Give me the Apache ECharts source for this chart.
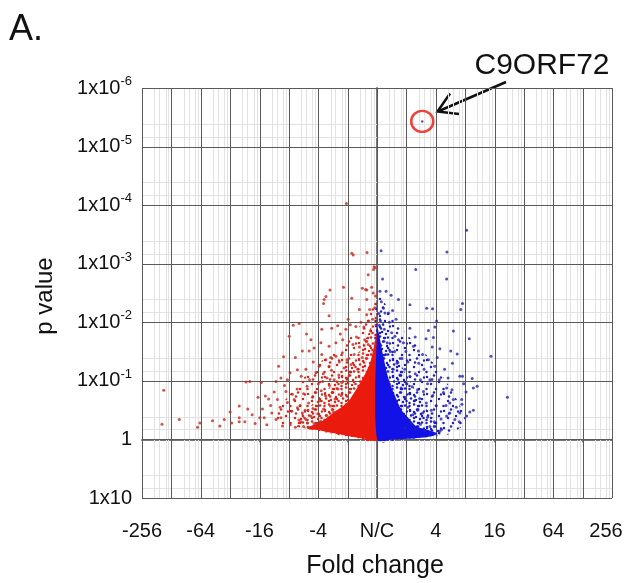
<!DOCTYPE html>
<html>
<head>
<meta charset="utf-8">
<script src="https://cdn.jsdelivr.net/npm/echarts@6/dist/echarts.min.js"></script>
<style>
  html, body { margin: 0; padding: 0; background: #fff; }
  #chart { width: 628px; height: 583px; }
</style>
</head>
<body>
<div id="chart"></div>
<script>
// x = log2 fold change, y = -log10 p value
const foldTicks = [-8, -6, -4, -2, 0, 2, 4, 6, 8];
const foldLabels = ['-256', '-64', '-16', '-4', 'N/C', '4', '16', '64', '256'];
const pTicks = [-1, 0, 1, 2, 3, 4, 5, 6];
const pBase = ['1x10', '1', '1x10', '1x10', '1x10', '1x10', '1x10', '1x10'];
const pExp = ['', '', '-1', '-2', '-3', '-4', '-5', '-6'];

// outlines of the crowded part of the cloud: loose dots, packed dots, solid
const downOuter = [
  [0, 0], [-1, 0.05], [-2, 0.15], [-2.8, 0.22], [-3.5, 0.3], [-3.4, 0.5], [-3.0, 0.75],
  [-2.5, 1.05], [-2.0, 1.3], [-1.4, 1.5], [-0.9, 1.75], [-0.5, 2.0], [-0.2, 2.3], [0, 2.5]
];
const downMid = [
  [0, 0], [-1, 0.05], [-2, 0.15], [-2.7, 0.22], [-2.6, 0.4], [-2.2, 0.6], [-1.7, 0.85],
  [-1.3, 1.05], [-0.9, 1.3], [-0.55, 1.55], [-0.3, 1.8], [-0.1, 2.05], [0, 2.15]
];
const downCore = [
  [0, 0], [-0.5, 0.02], [-1.0, 0.06], [-1.4, 0.1], [-1.9, 0.15], [-2.35, 0.2],
  [-1.9, 0.3], [-1.5, 0.45], [-1.03, 0.62], [-0.8, 0.78], [-0.58, 0.96],
  [-0.4, 1.12], [-0.24, 1.3], [-0.14, 1.5], [-0.06, 1.7], [0, 1.8]
];
const upOuter = [
  [0, 0], [1, 0.01], [2, 0.05], [2.6, 0.12], [3.0, 0.3], [2.8, 0.6], [2.4, 0.95],
  [2.0, 1.25], [1.5, 1.55], [1.0, 1.8], [0.6, 2.05], [0.3, 2.3], [0, 2.5]
];
const upMid = [
  [0, 0], [1, 0.01], [2, 0.06], [2.2, 0.12], [2.0, 0.3], [1.7, 0.5], [1.35, 0.8],
  [1.0, 1.1], [0.7, 1.4], [0.45, 1.7], [0.2, 2.0], [0, 2.15]
];
const upCore = [
  [0, 0], [0.5, 0.0], [1.0, 0.01], [1.5, 0.03], [1.9, 0.06], [2.05, 0.1],
  [1.7, 0.17], [1.35, 0.22], [1.1, 0.35], [0.84, 0.5], [0.65, 0.7],
  [0.44, 0.96], [0.33, 1.15], [0.22, 1.41], [0.14, 1.6], [0.07, 1.8], [0, 1.9]
];

// scattered genes
const downPoints = [
  [-1.04, 4.03], [-0.86, 3.18], [-0.81, 3.15], [-0.34, 3.19], [-0.1, 2.95], [-0.12, 2.9],
  [-0.06, 2.93], [-0.3, 2.81], [-0.13, 2.5], [-0.35, 2.55],
  [-1.6, 2.55], [-1.74, 2.44], [-1.8, 2.39], [-1.82, 2.32], [-1.14, 2.6], [-0.86, 2.41],
  [-0.5, 2.58], [-0.39, 2.56], [-0.35, 2.39], [-0.25, 2.22], [-0.35, 2.13], [-1.63, 2.11],
  [-0.6, 2.22], [-2.85, 1.95], [-2.65, 1.98], [-2.99, 1.76], [-2.25, 1.7], [-3.18, 1.41],
  [-2.54, 1.51], [-1.88, 1.88], [-1.54, 1.9], [-1.34, 1.94], [-1.06, 1.88], [-0.91, 1.96],
  [-0.72, 1.93], [-2.31, 1.51], [-2.14, 1.56], [-1.91, 1.65], [-1.63, 1.59], [-1.4, 1.65],
  [-1.17, 1.7], [-2.71, 1.19], [-3.05, 1.02], [-2.96, 1.14], [-3.27, 1.05], [-3.44, 0.99],
  [-4.46, 0.98], [-4.33, 0.99], [-3.94, 0.97], [-7.26, 0.84], [-7.32, 0.26], [-6.73, 0.34],
  [-6.03, 0.28], [-6.11, 0.21], [-5.35, 0.23], [-5.2, 0.34], [-4.69, 0.57], [-4.4, 0.52],
  [-4.69, 0.37], [-4.69, 0.3], [-4.15, 0.27], [-3.99, 0.37], [-3.84, 0.37], [-3.8, 0.74],
  [-3.69, 0.69], [-3.5, 0.81], [-3.39, 0.68], [-3.58, 0.45], [-3.44, 0.34], [-3.27, 0.37],
  [-3.22, 0.23], [-3.1, 0.82], [-2.88, 0.77], [-3.05, 0.63], [-2.82, 0.68], [-2.71, 0.54],
  [-2.54, 0.45], [-2.42, 0.34], [-2.59, 0.3], [-2.25, 0.4], [-2.14, 0.27], [-2.08, 1.14],
  [-1.97, 1.25], [-1.74, 1.36], [-1.63, 1.25], [-1.4, 1.42], [-1.85, 0.99], [-2.08, 0.8],
  [-2.95, 0.25], [-2.78, 0.21], [-2.66, 0.33], [-2.5, 0.22], [-2.37, 0.28], [-2.28, 0.19],
  [-2.05, 0.22], [-1.92, 0.31], [-1.78, 0.18], [-1.66, 0.26], [-2.9, 0.48], [-2.62, 0.58],
  [-2.45, 0.5], [-2.33, 0.62], [-2.18, 0.53], [-2.02, 0.44], [-1.95, 0.66], [-1.82, 0.52],
  [-1.71, 0.41], [-1.58, 0.57], [-1.48, 0.47], [-2.72, 0.86], [-2.5, 0.78], [-2.38, 0.91],
  [-2.2, 0.72], [-2.0, 0.95], [-1.9, 0.83], [-1.75, 0.74], [-1.62, 0.92], [-1.52, 0.8],
  [-1.43, 0.69], [-1.33, 0.86], [-1.22, 0.75], [-2.58, 1.08], [-2.42, 1.2], [-2.3, 1.02],
  [-2.17, 1.32], [-1.83, 1.12], [-1.7, 1.05], [-1.55, 1.18], [-1.46, 1.02], [-1.3, 1.1],
  [-1.2, 0.97], [-1.12, 1.22], [-1.02, 1.05], [-0.92, 1.15], [-1.88, 1.45], [-1.58, 1.4],
  [-1.28, 1.32], [-1.18, 1.48], [-1.02, 1.36], [-0.88, 1.28], [-0.78, 1.45], [-0.66, 1.2],
  [-0.6, 1.58], [-0.5, 1.4], [-0.42, 1.7], [-0.3, 1.62], [-0.22, 1.85], [-0.15, 2.05],
  [-0.08, 2.25], [-0.05, 2.45], [-0.18, 2.6], [-0.28, 2.02], [-0.45, 1.92], [-0.7, 1.75],
  [-0.82, 1.62], [-1.25, 1.8], [-0.98, 2.05], [-0.55, 2.0], [-3.3, 0.55], [-3.15, 0.92],
  [-3.62, 0.58], [-3.9, 0.52], [-4.05, 0.72], [-4.25, 0.42], [-3.75, 0.25], [-4.5, 0.3],
  [-5.0, 0.47], [-4.95, 0.28], [-5.6, 0.32], [-3.35, 1.25], [-2.78, 1.4], [-2.4, 1.8]
];
const upPoints = [
  [3.05, 3.57], [0.14, 3.22], [2.38, 3.2], [1.32, 2.9], [2.37, 2.74], [0.19, 2.74],
  [0.1, 2.53], [0.31, 2.53], [0.48, 2.46], [0.73, 2.39], [1.12, 2.3], [2.91, 2.32],
  [2.85, 2.22], [1.69, 2.24], [1.89, 2.23], [0.22, 2.24], [0.39, 2.16], [0.53, 2.2],
  [0.27, 2.16], [2.03, 2.02], [1.97, 1.92], [1.75, 1.86], [1.12, 1.9], [3.14, 1.72],
  [3.88, 1.42], [1.92, 1.74], [1.67, 1.72], [2.14, 1.55], [2.51, 1.51], [2.73, 1.46],
  [2.57, 1.3], [4.44, 0.72], [3.41, 0.91], [3.28, 0.88], [3.24, 1.04], [2.82, 1.08],
  [2.91, 1.08], [3.03, 0.81], [3.16, 0.47], [3.28, 0.5], [2.88, 0.68], [2.89, 0.6],
  [2.82, 0.45], [2.8, 0.3], [3.05, 0.4], [2.48, 0.45], [2.6, 0.68], [2.2, 0.17],
  [2.14, 0.14], [2.37, 0.88], [2.26, 0.8], [2.12, 1.02], [1.8, 1.02], [1.97, 1.25],
  [1.75, 1.36], [1.55, 1.45], [1.41, 1.51], [1.24, 1.59], [0.9, 1.65], [0.73, 1.7],
  [0.61, 1.76], [0.5, 1.82], [2.48, 0.62], [2.37, 0.4], [2.65, 0.34],
  [0.95, 0.2], [1.15, 0.28], [1.3, 0.18], [1.48, 0.26], [1.62, 0.15], [1.8, 0.22],
  [1.95, 0.3], [1.72, 0.38], [1.55, 0.45], [1.38, 0.5], [1.22, 0.42], [1.05, 0.55],
  [1.85, 0.5], [2.02, 0.58], [2.18, 0.35], [1.68, 0.62], [1.45, 0.7], [1.28, 0.66],
  [1.1, 0.78], [0.95, 0.72], [0.82, 0.88], [1.02, 0.95], [1.2, 0.9], [1.38, 0.85],
  [1.58, 0.82], [1.72, 0.95], [1.9, 0.75], [1.48, 1.02], [1.3, 1.12], [1.12, 1.08],
  [0.95, 1.2], [0.78, 1.1], [0.68, 1.3], [0.85, 1.38], [1.05, 1.32], [1.6, 1.2],
  [1.42, 1.3], [0.55, 1.2], [0.45, 1.5], [0.6, 1.5], [0.35, 1.65], [0.25, 1.88],
  [0.12, 2.02], [0.42, 2.0], [0.3, 1.45], [2.3, 1.2], [2.42, 1.05], [2.05, 1.4],
  [2.35, 0.58], [2.55, 0.85], [2.7, 0.55], [1.88, 1.58], [1.3, 1.75], [0.98, 1.5],
  [0.15, 2.35], [0.65, 2.05], [2.6, 1.85], [2.95, 0.95], [0.06, 2.15], [0.08, 1.95]
];
const highlightGene = [[1.54, 5.43]];

// light log-style grid lines inside each unit
const xMinorOffsets = [0.42, 0.585, 0.8, 0.9];
const yMinorOffsets = [0.17, 0.39];

const FONT = '"Liberation Sans", Arial, sans-serif';
const RED = '#ea1a0d';
const BLUE = '#1212e6';

// [direction (0 = vertical, 1 = horizontal), axis value, major?]
const gridLines = [];
for (let n = -8; n < 8; n++) xMinorOffsets.forEach(o => gridLines.push([0, n + o, 0]));
for (let n = -1; n < 6; n++) yMinorOffsets.forEach(o => gridLines.push([1, n + o, 0]));
for (let n = -8; n <= 8; n++) gridLines.push([0, n, 1]);
for (let n = -1; n <= 6; n++) gridLines.push([1, n, 1]);

// small dotted textures so the crowded zones read as packed points
function dotTexture(color, w, h, dots) {
  const c = document.createElement('canvas');
  c.width = w; c.height = h;
  const ctx = c.getContext('2d');
  ctx.fillStyle = color;
  dots.forEach(d => { ctx.beginPath(); ctx.arc(d[0], d[1], 1.25, 0, Math.PI * 2); ctx.fill(); });
  return { image: c, repeat: 'repeat' };
}
const looseDots = [[2, 3], [9, 1.5], [14, 8], [6, 10], [1.5, 15], [11, 15], [16, 3.5], [7, 5.5]];
const packedDots = [[2, 2], [6, 4], [10, 1.5], [13, 6], [3, 7.5], [8, 9], [12, 11], [1.5, 12],
  [6, 13.5], [10, 15], [14, 14.5], [15.5, 10]];

const chart = echarts.init(document.getElementById('chart'));

function polygonSeries(points, fill) {
  return {
    type: 'custom',
    z: 2,
    silent: true,
    data: [0],
    renderItem: (params, api) => ({
      type: 'polygon',
      shape: { points: points.map(p => api.coord(p)), smooth: 0.3 },
      style: { fill: fill }
    })
  };
}

chart.setOption({
  animation: false,
  backgroundColor: '#fff',
  grid: { left: 142, right: 16, top: 88, bottom: 85 },
  xAxis: {
    type: 'value', min: -8, max: 8, interval: 1,
    offset: 7,
    axisLine: { show: true, lineStyle: { color: '#777', width: 2 } },
    axisTick: { show: true, length: 3, lineStyle: { color: '#777' } },
    axisLabel: {
      margin: 16, fontSize: 20, color: '#111', fontFamily: FONT,
      formatter: v => {
        const i = foldTicks.indexOf(v);
        if (i < 0) return '';
        if (i === foldTicks.length - 1) return '{r|' + foldLabels[i] + '}';
        return foldLabels[i];
      },
      rich: { r: { fontSize: 20, color: '#111', fontFamily: FONT, padding: [0, 12, 0, 0] } }
    },
    splitLine: { show: false }
  },
  yAxis: {
    type: 'value', min: -1, max: 6, interval: 1,
    offset: 4,
    axisLine: { show: true, lineStyle: { color: '#777', width: 2 } },
    axisTick: { show: false },
    axisLabel: {
      margin: 6, color: '#111',
      formatter: v => {
        const i = pTicks.indexOf(v);
        if (i < 0) return '';
        return pExp[i] ? '{b|' + pBase[i] + '}{s|' + pExp[i] + '}' : '{b|' + pBase[i] + '}';
      },
      rich: {
        b: { fontSize: 20, lineHeight: 26, color: '#111', fontFamily: FONT },
        s: { fontSize: 13, lineHeight: 14, verticalAlign: 'top', color: '#111', fontFamily: FONT }
      }
    },
    splitLine: { show: false }
  },
  series: [
    {
      type: 'custom',
      z: 1,
      silent: true,
      clip: false,
      data: gridLines,
      renderItem: (params, api) => {
        const cs = params.coordSys;
        const dir = api.value(0);
        const v = api.value(1);
        const style = api.value(2)
          ? { stroke: '#5a5a5a', lineWidth: 1 }
          : { stroke: '#e2e2e2', lineWidth: 1 };
        if (dir === 0) {
          const x = Math.round(api.coord([v, 0])[0]) + 0.5;
          return { type: 'line', shape: { x1: x, y1: cs.y, x2: x, y2: cs.y + cs.height }, style };
        }
        const y = Math.round(api.coord([0, v])[1]) + 0.5;
        return { type: 'line', shape: { x1: cs.x, y1: y, x2: cs.x + cs.width, y2: y }, style };
      }
    },
    polygonSeries(downOuter, dotTexture('#d42a1c', 17, 17, looseDots)),
    polygonSeries(upOuter, dotTexture('#2424c0', 17, 17, looseDots)),
    polygonSeries(downMid, dotTexture('#e0231a', 17, 17, packedDots)),
    polygonSeries(upMid, dotTexture('#1c1cd8', 17, 17, packedDots)),
    polygonSeries(downCore, RED),
    polygonSeries(upCore, BLUE),
    {
      type: 'scatter', z: 3, silent: true,
      symbolSize: 3,
      itemStyle: { color: '#c4281c' },
      data: downPoints
    },
    {
      type: 'scatter', z: 3, silent: true,
      symbolSize: 3,
      itemStyle: { color: '#2323b0' },
      data: upPoints
    },
    {
      type: 'scatter', z: 4, silent: true,
      symbolSize: 2.5,
      itemStyle: { color: '#33337a' },
      data: highlightGene
    },
    {
      type: 'scatter', z: 4, silent: true,
      symbolSize: [22, 21],
      itemStyle: { color: 'rgba(0,0,0,0)', borderColor: '#e8140c', borderWidth: 2.5 },
      data: highlightGene
    }
  ],
  graphic: [
    { type: 'text', left: 9, top: 12, style: { text: 'A.', font: '36px ' + FONT, fill: '#111' } },
    { type: 'text', x: 542, y: 66, style: { text: 'C9ORF72', font: '30px ' + FONT, fill: '#111',
      textAlign: 'center', textVerticalAlign: 'middle' } },
    { type: 'text', x: 45, y: 296, rotation: Math.PI / 2, style: { text: 'p value', font: '24px ' + FONT,
      fill: '#111', textAlign: 'center', textVerticalAlign: 'middle' } },
    { type: 'text', x: 375, y: 566, style: { text: 'Fold change', font: '25px ' + FONT, fill: '#111',
      textAlign: 'center', textVerticalAlign: 'middle' } },
    { type: 'line', shape: { x1: 506, y1: 82, x2: 439, y2: 111 },
      style: { stroke: '#111', lineWidth: 2.5 } },
    { type: 'polyline', shape: { points: [[450, 93.5], [437.5, 111.5], [459, 114]] },
      style: { stroke: '#111', lineWidth: 2.5, fill: null } }
  ]
});
</script>
</body>
</html>
